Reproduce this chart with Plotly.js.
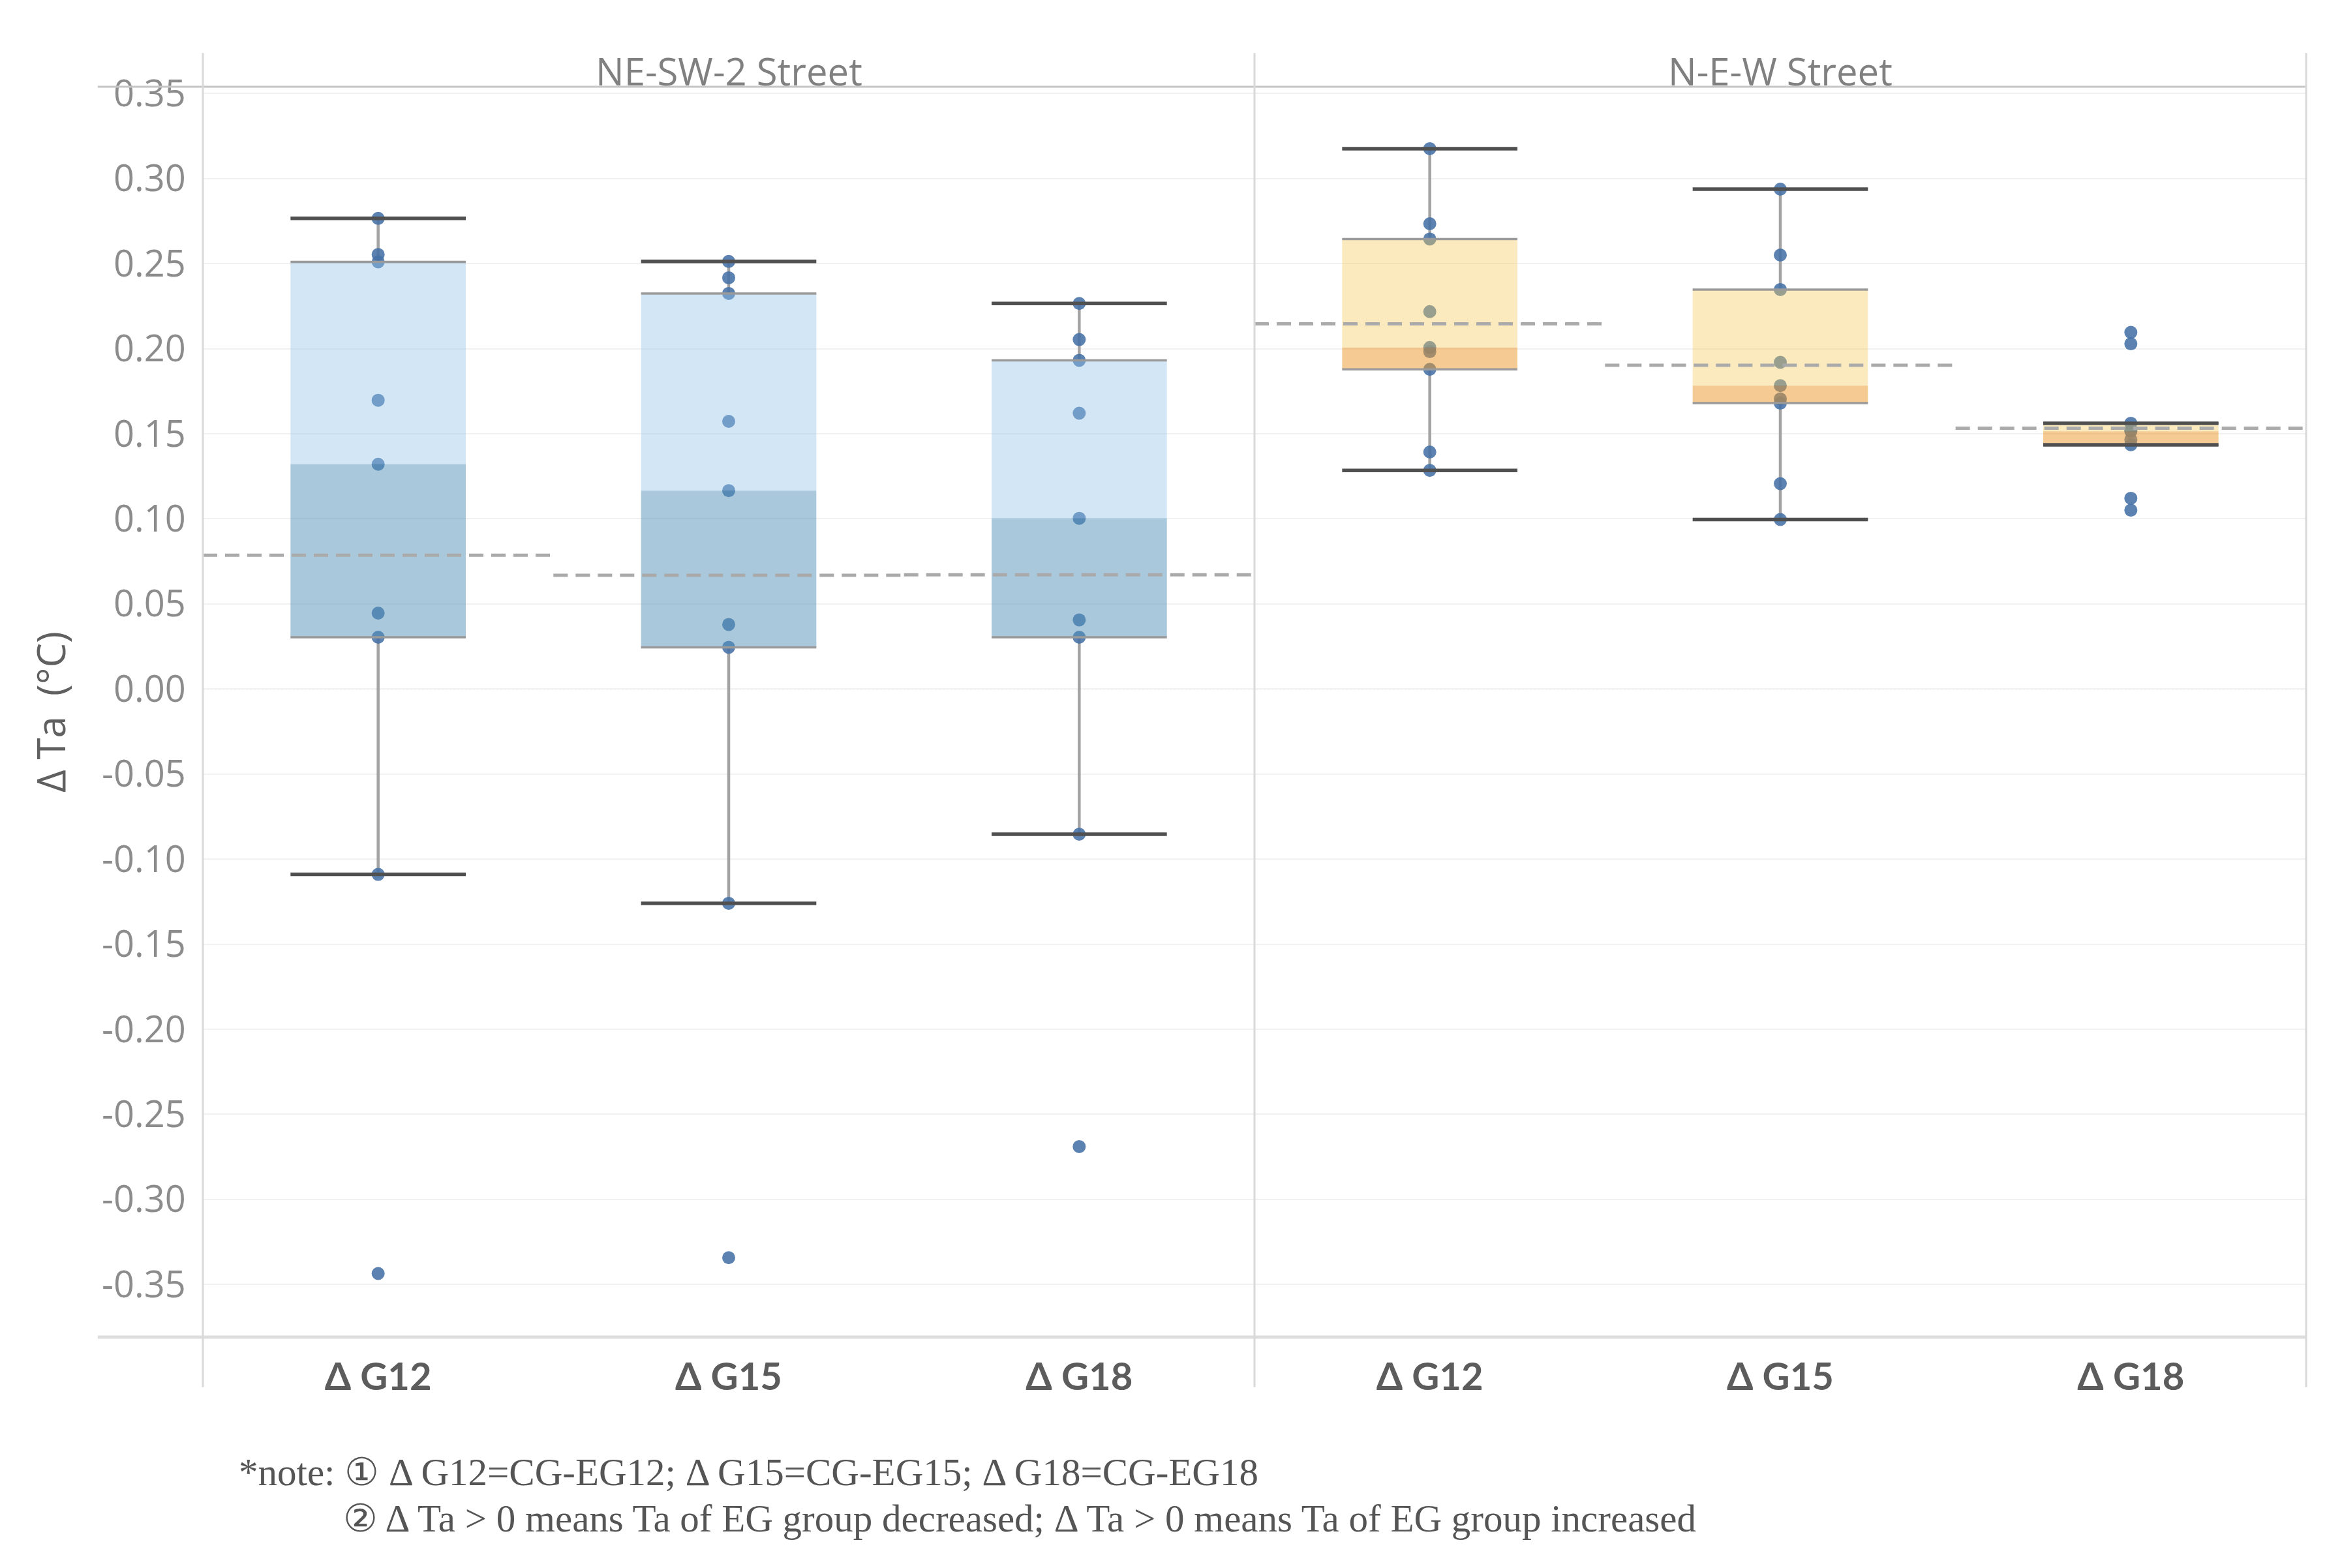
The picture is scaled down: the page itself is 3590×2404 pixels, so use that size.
<!DOCTYPE html>
<html><head><meta charset="utf-8">
<script src="https://cdn.plot.ly/plotly-3.0.1.min.js"></script>
<style>html,body{margin:0;padding:0;background:#fff}#chart{width:3590px;height:2404px}</style>
</head><body><div id="chart"></div>
<script>
// ---- data ----
const panels = ["NE-SW-2 Street", "N-E-W Street"];
const categories = ["Δ G12", "Δ G15", "Δ G18"];
const neSw2_dG12 = [0.2766, 0.2554, 0.2511, 0.1697, 0.1321, 0.0446, 0.0304, -0.1090, -0.3436];
const neSw2_dG15 = [0.2513, 0.2417, 0.2325, 0.1573, 0.1166, 0.0379, 0.0245, -0.1260, -0.3343];
const neSw2_dG18 = [0.2266, 0.2054, 0.1932, 0.1621, 0.1003, 0.0406, 0.0304, -0.0854, -0.2690];
const new_dG12 = [0.3176, 0.2735, 0.2645, 0.2218, 0.2007, 0.1983, 0.1879, 0.1393, 0.1285];
const new_dG15 = [0.2938, 0.2551, 0.2348, 0.1920, 0.1783, 0.1705, 0.1680, 0.1207, 0.0996];
const new_dG18 = [0.2096, 0.2029, 0.1562, 0.1520, 0.1515, 0.1465, 0.1435, 0.1121, 0.1051];
const yTicks = [-0.35, -0.30, -0.25, -0.20, -0.15, -0.10, -0.05, 0.00, 0.05, 0.10, 0.15, 0.20, 0.25, 0.30, 0.35];
const yTitle = "Δ Ta  (°C)";
const noteLine1 = "*note: ① Δ G12=CG-EG12; Δ G15=CG-EG15; Δ G18=CG-EG18";
const noteLine2 = "② Δ Ta > 0 means Ta of EG group decreased; Δ Ta > 0 means Ta of EG group increased";

// ---- derived ----
const series = [neSw2_dG12, neSw2_dG15, neSw2_dG18, new_dG12, new_dG15, new_dG18];
const xLabels = categories.concat(categories);
function q(sorted, p) {
  const pos = (sorted.length - 1) * p, lo = Math.floor(pos), hi = Math.ceil(pos);
  return sorted[lo] + (sorted[hi] - sorted[lo]) * (pos - lo);
}
const stats = series.map(d => {
  const s = d.slice().sort((a, b) => a - b);
  const q1 = q(s, 0.25), med = q(s, 0.5), q3 = q(s, 0.75), iqr = q3 - q1;
  const inside = s.filter(v => v >= q1 - 1.5 * iqr && v <= q3 + 1.5 * iqr);
  const mean = d.reduce((a, b) => a + b, 0) / d.length;
  return {q1, med, q3, lo: inside[0], hi: inside[inside.length - 1], mean};
});
const W = 0.25;
function seg(list) { const x = [], y = []; list.forEach(s => { x.push(s[0], s[1], null); y.push(s[2], s[3], null); }); return {x, y}; }
function rects(idx, key0, key1) {
  const x = [], y = [];
  idx.forEach(i => { const a = stats[i][key0], b = stats[i][key1];
    x.push(i - W, i + W, i + W, i - W, i - W, null); y.push(a, a, b, b, a, null); });
  return {x, y};
}
const L = [0, 1, 2], R = [3, 4, 5];
const traces = [];
// whiskers
let w = seg(stats.flatMap((s, i) => [[i, i, s.q3, s.hi], [i, i, s.q1, s.lo]]));
traces.push({type: 'scatter', mode: 'lines', x: w.x, y: w.y, line: {color: '#a3a3a3', width: 4.5}, hoverinfo: 'skip', showlegend: false});
// points
const px = [], py = [];
series.forEach((d, i) => d.forEach(v => { px.push(i); py.push(v); }));
traces.push({type: 'scatter', mode: 'markers', x: px, y: py, marker: {color: '#4471a6', size: 20, opacity: 0.88}, showlegend: false});
// boxes
const fills = [
  [L, 'med', 'q3', 'rgba(148,195,230,0.42)'],
  [L, 'q1', 'med', 'rgba(83,145,185,0.5)'],
  [R, 'med', 'q3', 'rgba(245,202,90,0.4)'],
  [R, 'q1', 'med', 'rgba(235,151,39,0.5)']
];
fills.forEach(f => { const r = rects(f[0], f[1], f[2]);
  traces.push({type: 'scatter', mode: 'none', x: r.x, y: r.y, fill: 'toself', fillcolor: f[3], hoverinfo: 'skip', showlegend: false}); });
// hinges
let h = seg(stats.flatMap((s, i) => [[i - W, i + W, s.q1, s.q1], [i - W, i + W, s.q3, s.q3]]));
traces.push({type: 'scatter', mode: 'lines', x: h.x, y: h.y, line: {color: '#9a9a9a', width: 3.5}, hoverinfo: 'skip', showlegend: false});
// caps
let c = seg(stats.flatMap((s, i) => [[i - W, i + W, s.lo, s.lo], [i - W, i + W, s.hi, s.hi]]));
traces.push({type: 'scatter', mode: 'lines', x: c.x, y: c.y, line: {color: '#505050', width: 5.5}, hoverinfo: 'skip', showlegend: false});
// mean lines
let m = seg(stats.map((s, i) => [i - 0.5, i + 0.5, s.mean, s.mean]));
traces.push({type: 'scatter', mode: 'lines', x: m.x, y: m.y, line: {color: '#aaaaaa', width: 5, dash: '22px,12px'}, hoverinfo: 'skip', showlegend: false});

const frameColor = '#d9d9d9';
const yTop = 1.027, yBot = -0.04, xLeft = -0.05;
const shapes = [
  {type: 'line', xref: 'paper', yref: 'y', x0: 0, x1: 1, y0: 0, y1: 0, line: {color: '#cccccc', width: 2, dash: 'dot'}, layer: 'below'},
  {type: 'line', xref: 'paper', yref: 'paper', x0: xLeft, x1: 1, y0: 1, y1: 1, line: {color: '#c6c6c6', width: 3}},
  {type: 'line', xref: 'paper', yref: 'paper', x0: xLeft, x1: 1, y0: 0, y1: 0, line: {color: '#dddddd', width: 5}},
  {type: 'line', xref: 'paper', yref: 'paper', x0: 0, x1: 0, y0: yBot, y1: yTop, line: {color: frameColor, width: 3}},
  {type: 'line', xref: 'x', yref: 'paper', x0: 2.5, x1: 2.5, y0: yBot, y1: yTop, line: {color: frameColor, width: 3}},
  {type: 'line', xref: 'paper', yref: 'paper', x0: 1, x1: 1, y0: yBot, y1: yTop, line: {color: frameColor, width: 3}}
];
const annotations = [
  {text: panels[0], xref: 'x', yref: 'paper', x: 1, y: 1.013, showarrow: false, yanchor: 'middle', font: {family: 'Open Sans', size: 58, color: '#808080'}},
  {text: panels[1], xref: 'x', yref: 'paper', x: 4, y: 1.013, showarrow: false, yanchor: 'middle', font: {family: 'Open Sans', size: 58, color: '#808080'}},
  {text: noteLine1, xref: 'paper', yref: 'paper', x: 0.0164, y: -0.108, xanchor: 'left', yanchor: 'middle', showarrow: false, font: {family: 'Liberation Serif', size: 59, color: '#555555'}},
  {text: noteLine2, xref: 'paper', yref: 'paper', x: 0.0662, y: -0.145, xanchor: 'left', yanchor: 'middle', showarrow: false, font: {family: 'Liberation Serif', size: 59, color: '#555555'}}
];
const layout = {
  width: 3590, height: 2404,
  margin: {l: 311, r: 55, t: 133, b: 354},
  paper_bgcolor: '#ffffff', plot_bgcolor: '#ffffff',
  showlegend: false,
  xaxis: {range: [-0.5, 5.5], tickvals: [0, 1, 2, 3, 4, 5], ticktext: xLabels, showgrid: false, zeroline: false, showline: false,
    ticks: 'outside', ticklen: 10, tickcolor: 'rgba(0,0,0,0)', tickfont: {family: 'Lato', size: 58, color: '#5c5c5c', weight: 'bold'}},
  yaxis: {range: [-0.381, 0.354], tickvals: yTicks, ticktext: yTicks.map(v => v.toFixed(2)), showgrid: true, gridcolor: '#f1f1f1', gridwidth: 2,
    zeroline: false, showline: false, ticks: 'outside', ticklen: 14, tickcolor: 'rgba(0,0,0,0)',
    tickfont: {family: 'Open Sans', size: 56, color: '#8c8c8c'},
    title: {text: yTitle, standoff: 36, font: {family: 'Open Sans', size: 60, color: '#606060'}}},
  shapes: shapes, annotations: annotations
};
Plotly.newPlot('chart', traces, layout, {staticPlot: true});
</script></body></html>
